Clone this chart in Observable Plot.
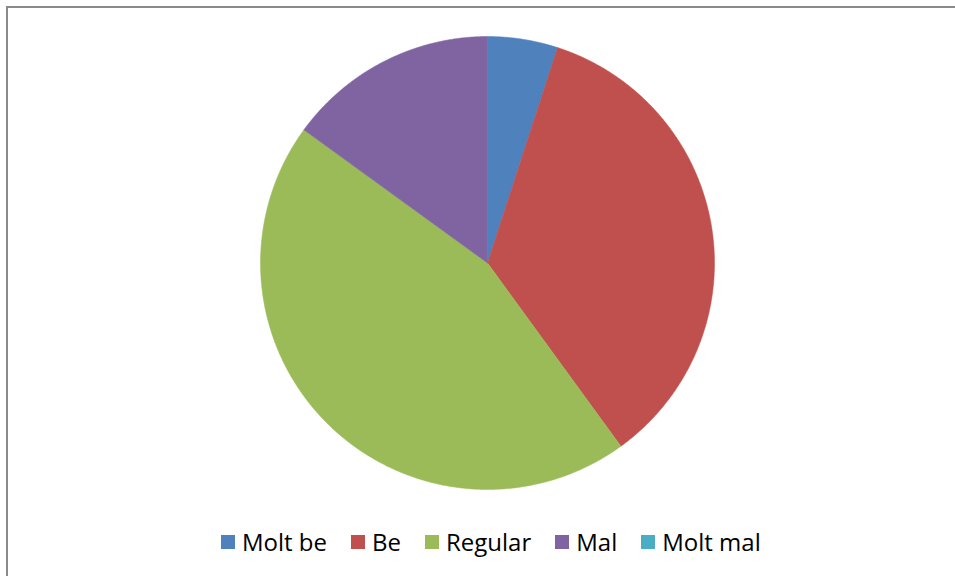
<!DOCTYPE html>
<html>
<head>
<meta charset="utf-8">
<script src="https://cdn.jsdelivr.net/npm/d3@7"></script>
<script src="https://cdn.jsdelivr.net/npm/@observablehq/plot@0.6"></script>
<style>
  html, body { margin: 0; padding: 0; background: #fff; }
  #wrap { position: relative; width: 955px; height: 576px; overflow: hidden; font-family: "Open Sans", sans-serif; }
  #frame { position: absolute; left: 6px; top: 6px; width: 1000px; height: 1000px; border: 2px solid #8a8a8a; box-sizing: border-box; }
  #chart { position: absolute; left: 0; top: 0; }
  #legend { position: absolute; left: 221px; top: 525px; display: flex; align-items: center; font-size: 24px; color: #000; white-space: nowrap; }
  .item { display: flex; align-items: center; margin-right: 24px; }
  .sw { width: 14px; height: 14px; margin-right: 7px; }
</style>
</head>
<body>
<div id="wrap">
  <div id="frame"></div>
  <div id="chart"></div>
  <div id="legend"></div>
</div>
<script>
const categories = ["Molt be", "Be", "Regular", "Mal", "Molt mal"];
const values = [5, 35, 45, 15, 0];
const colors = ["#4F81BD", "#C0504D", "#9BBB59", "#8064A2", "#4BACC6"];

const data = categories.map((c, i) => ({category: c, value: values[i]}));
const arcs = d3.pie().sort(null).value(d => d.value).startAngle(0).endAngle(2 * Math.PI)(data);

// Build slice outlines from the pie layout (unit radius, y up)
const pts = [];
for (const a of arcs) {
  if (a.endAngle - a.startAngle <= 0) continue;
  const name = a.data.category;
  pts.push({category: name, x: 0, y: 0});
  const n = Math.max(2, Math.ceil((a.endAngle - a.startAngle) / 0.005));
  for (let k = 0; k <= n; k++) {
    const t = a.startAngle + (a.endAngle - a.startAngle) * k / n;
    pts.push({category: name, x: Math.sin(t), y: Math.cos(t)});
  }
  pts.push({category: name, x: 0, y: 0});
}

const plot = Plot.plot({
  width: 955,
  height: 520,
  margin: 0,
  x: {domain: [-1, 1], range: [260, 714], axis: null},
  y: {domain: [-1, 1], range: [489, 36], axis: null},
  color: {domain: categories, range: colors},
  marks: [
    Plot.line(pts, {x: "x", y: "y", z: "category", fill: "category", stroke: "category", strokeWidth: 0.5, curve: "linear"})
  ]
});
document.getElementById("chart").appendChild(plot);

const legend = document.getElementById("legend");
categories.forEach((c, i) => {
  const it = document.createElement("div");
  it.className = "item";
  const sw = document.createElement("div");
  sw.className = "sw";
  sw.style.background = colors[i];
  const tx = document.createElement("span");
  tx.textContent = c;
  it.appendChild(sw);
  it.appendChild(tx);
  legend.appendChild(it);
});
</script>
</body>
</html>
